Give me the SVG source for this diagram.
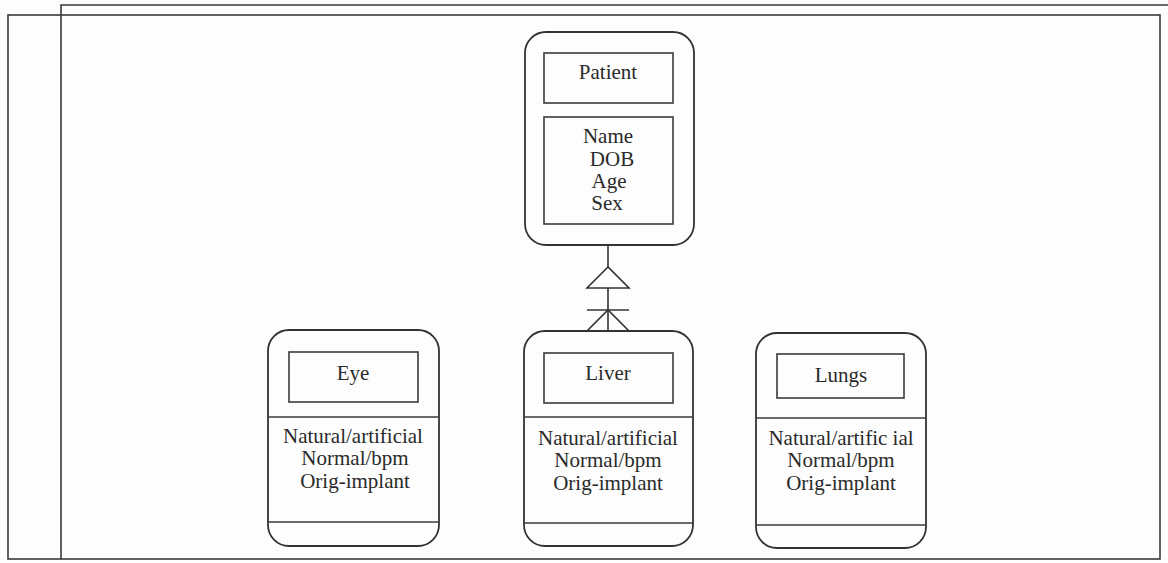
<svg xmlns="http://www.w3.org/2000/svg" width="1168" height="563" viewBox="0 0 1168 563">
  <style>
    .frame { fill: none; stroke: #3a3a3a; stroke-width: 1.6; }
    .outer { fill: none; stroke: #333; stroke-width: 1.8; }
    .box { fill: none; stroke: #3a3a3a; stroke-width: 1.6; }
    .div { stroke: #3a3a3a; stroke-width: 1.6; }
    .link { fill: none; stroke: #333; stroke-width: 1.6; }
    .lbl { font-family: 'Liberation Serif', 'DejaVu Serif', serif; font-size: 21px; fill: #2a2a2a; text-anchor: middle; }
  </style>
  <rect width="1168" height="563" fill="#fdfdfd"/>

  <!-- page frame -->
  <g id="frame">
    <rect class="frame" x="8" y="15" width="1152" height="544"/>
    <polyline class="frame" points="61,559 61,5 1168,5"/>
  </g>

  <!-- connectors: generalisation triangle and crow's foot -->
  <g id="connectors">
    <line class="link" x1="608" y1="245" x2="608" y2="267"/>
    <polygon class="link" points="608,267 587,288 629,288"/>
    <line class="link" x1="608" y1="288" x2="608" y2="331"/>
    <line class="link" x1="587" y1="310" x2="629" y2="310"/>
    <polyline class="link" points="587,331 608,310 629,331"/>
  </g>

  <g id="patient">
    <rect class="outer" x="525" y="32" width="169" height="213" rx="21"/>
    <rect class="box" x="544" y="53" width="129" height="50"/>
    <text class="lbl" x="608" y="79">Patient</text>
    <rect class="box" x="544" y="117" width="129" height="107"/>
    <text class="lbl" x="608" y="143">Name</text>
    <text class="lbl" x="612" y="166">DOB</text>
    <text class="lbl" x="609" y="188">Age</text>
    <text class="lbl" x="607" y="210">Sex</text>
  </g>

  <g id="eye">
    <rect class="outer" x="268" y="330" width="171" height="216" rx="21"/>
    <rect class="box" x="289" y="352" width="129" height="50"/>
    <text class="lbl" x="353" y="380">Eye</text>
    <line class="div" x1="268" y1="417" x2="439" y2="417"/>
    <text class="lbl" x="353" y="443">Natural/artificial</text>
    <text class="lbl" x="355" y="465">Normal/bpm</text>
    <text class="lbl" x="355" y="488">Orig-implant</text>
    <line class="div" x1="268" y1="522" x2="439" y2="522"/>
  </g>

  <g id="liver">
    <rect class="outer" x="524" y="331" width="169" height="215" rx="21"/>
    <rect class="box" x="544" y="353" width="129" height="50"/>
    <text class="lbl" x="608" y="380">Liver</text>
    <line class="div" x1="524" y1="417" x2="693" y2="417"/>
    <text class="lbl" x="608" y="445">Natural/artificial</text>
    <text class="lbl" x="608" y="467">Normal/bpm</text>
    <text class="lbl" x="608" y="490">Orig-implant</text>
    <line class="div" x1="524" y1="523" x2="693" y2="523"/>
  </g>

  <g id="lungs">
    <rect class="outer" x="756" y="333" width="170" height="215" rx="21"/>
    <rect class="box" x="777" y="354" width="127" height="44"/>
    <text class="lbl" x="841" y="382">Lungs</text>
    <line class="div" x1="756" y1="418" x2="926" y2="418"/>
    <text class="lbl" x="841" y="445">Natural/artific ial</text>
    <text class="lbl" x="841" y="467">Normal/bpm</text>
    <text class="lbl" x="841" y="490">Orig-implant</text>
    <line class="div" x1="756" y1="525" x2="926" y2="525"/>
  </g>
</svg>
